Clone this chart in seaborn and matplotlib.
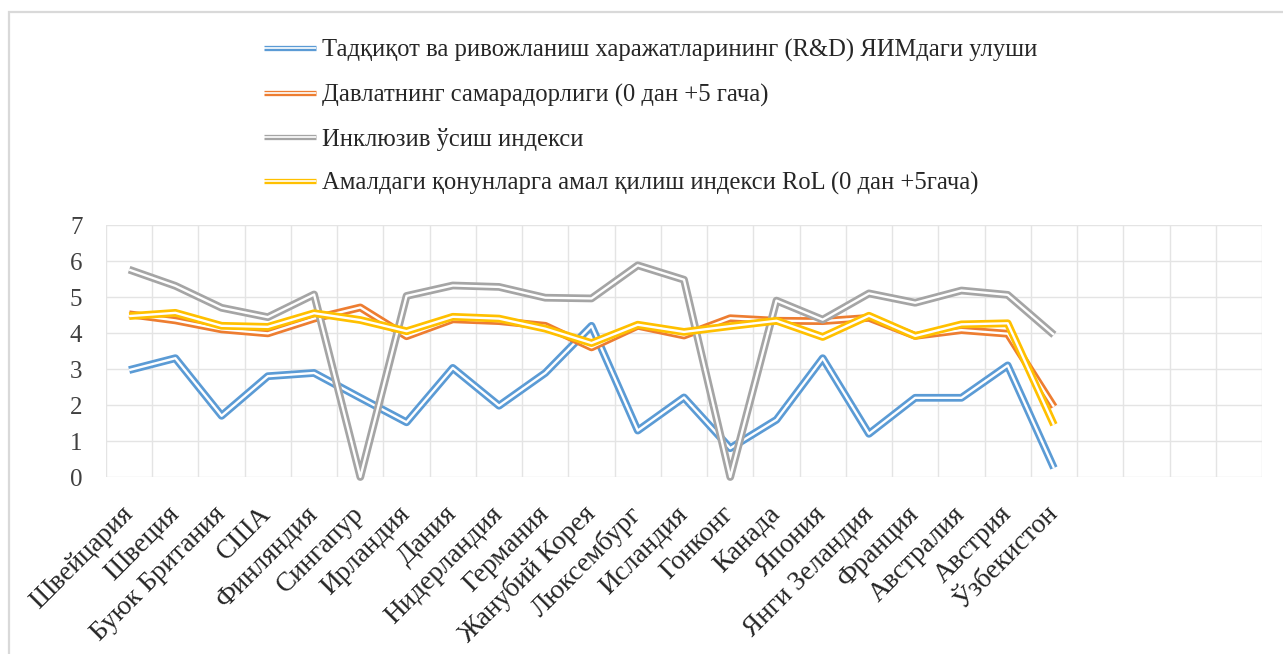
import matplotlib
matplotlib.use("Agg")
import matplotlib.pyplot as plt
import seaborn as sns
import numpy as np
import pandas as pd
from matplotlib.patches import Rectangle
from matplotlib.lines import Line2D

countries = ["Швейцария", "Швеция", "Буюк Британия", "США", "Финляндия", "Сингапур",
             "Ирландия", "Дания", "Нидерландия", "Германия", "Жанубий Корея", "Люксембург",
             "Исландия", "Гонконг", "Канада", "Япония", "Янги Зеландия", "Франция",
             "Австралия", "Австрия", "Ўзбекистон"]
n_slots = 25  # category slots on the axis (last ones empty)

rd_share = [2.97, 3.30, 1.70, 2.80, 2.89, 2.20, 1.52, 3.03, 1.98, 2.89, 4.20, 1.29,
            2.21, 0.80, 1.59, 3.30, 1.20, 2.20, 2.20, 3.10, 0.25]
gov_eff = [4.52, 4.35, 4.10, 3.99, 4.40, 4.71, 3.91, 4.38, 4.33, 4.20, 3.60, 4.20,
           3.93, 4.41, 4.34, 4.33, 4.42, 3.92, 4.08, 3.98, 1.95]
incl_growth = [5.76, 5.31, 4.70, 4.44, 5.07, 0.0, 5.03, 5.32, 5.28, 4.98, 4.96, 5.88,
               5.48, 0.0, 4.90, 4.37, 5.10, 4.84, 5.18, 5.06, 3.95]
rol_index = [4.47, 4.56, 4.20, 4.17, 4.55, 4.36, 4.05, 4.45, 4.40, 4.12, 3.72, 4.23,
             4.03, 4.19, 4.34, 3.89, 4.48, 3.92, 4.24, 4.27, 1.45]

series_names = ["Тадқиқот ва ривожланиш харажатларининг (R&D) ЯИМдаги улуши",
                "Давлатнинг самарадорлиги (0 дан +5 гача)",
                "Инклюзив ўсиш индекси",
                "Амалдаги қонунларга амал қилиш индекси RoL (0 дан +5гача)"]
series_values = [rd_share, gov_eff, incl_growth, rol_index]
colors = ["#5B9BD5", "#ED7D31", "#A5A5A5", "#FFC000"]

sns.set_theme(style="white")
plt.rcParams['font.family'] = ['Liberation Serif', 'DejaVu Serif']

fig = plt.figure(figsize=(12.83, 6.54), dpi=100)
ax = fig.add_axes([106/1283, 1-477/654, (1262-106)/1283, (477-225)/654])

x = np.arange(len(countries))
outer_lw, inner_lw = 5.6, 1.7
handles = []
for name, vals, col in zip(series_names, series_values, colors):
    df = pd.DataFrame({"x": x, "y": vals})
    sns.lineplot(data=df, x="x", y="y", ax=ax, color=col, lw=outer_lw,
                 solid_joinstyle="round", solid_capstyle="butt", clip_on=False, legend=False)
    sns.lineplot(data=df, x="x", y="y", ax=ax, color="white", lw=inner_lw,
                 solid_joinstyle="round", solid_capstyle="butt", clip_on=False, legend=False)
    handles.append((Line2D([], [], color=col, lw=3.8, solid_capstyle="butt"),
                    Line2D([], [], color="white", lw=1.2, solid_capstyle="butt")))

ax.set_xlim(-0.5, n_slots - 0.5)
ax.set_ylim(0, 7)
ax.set_yticks(range(0, 8))
ax.set_xticks(x)
ax.set_xticklabels(countries, rotation=45, ha="right", va="center", rotation_mode="anchor")
ax.set_xticks(np.arange(-0.5, n_slots, 1.0), minor=True)
ax.set_xlabel("")
ax.set_ylabel("")
ax.grid(False)
ax.grid(axis="y", which="major", color="#e4e4e4", lw=1.0)
ax.grid(axis="x", which="minor", color="#e4e4e4", lw=1.0)
ax.set_axisbelow(True)
for s in ax.spines.values():
    s.set_visible(False)
ax.tick_params(axis="both", which="both", length=0)
ax.tick_params(axis="y", labelsize=18, labelcolor="#404040", pad=17)
ax.tick_params(axis="x", labelsize=19.6, labelcolor="#262626", pad=24)

leg = fig.legend(handles, series_names, loc="upper left",
                 bbox_to_anchor=(264/1283, 1-39/654), bbox_transform=fig.transFigure,
                 frameon=False, fontsize=17.7, handlelength=2.1, handletextpad=0.25,
                 labelspacing=0.87, borderpad=0, borderaxespad=0)
for t in leg.get_texts():
    t.set_color("#262626")

fig.patches.append(Rectangle((9/1283, -0.2), 1.2, 1 - 12/654 + 0.2, transform=fig.transFigure,
                             fill=False, edgecolor="#d9d9d9", lw=1.6))

fig.savefig("out.png", dpi=100)
